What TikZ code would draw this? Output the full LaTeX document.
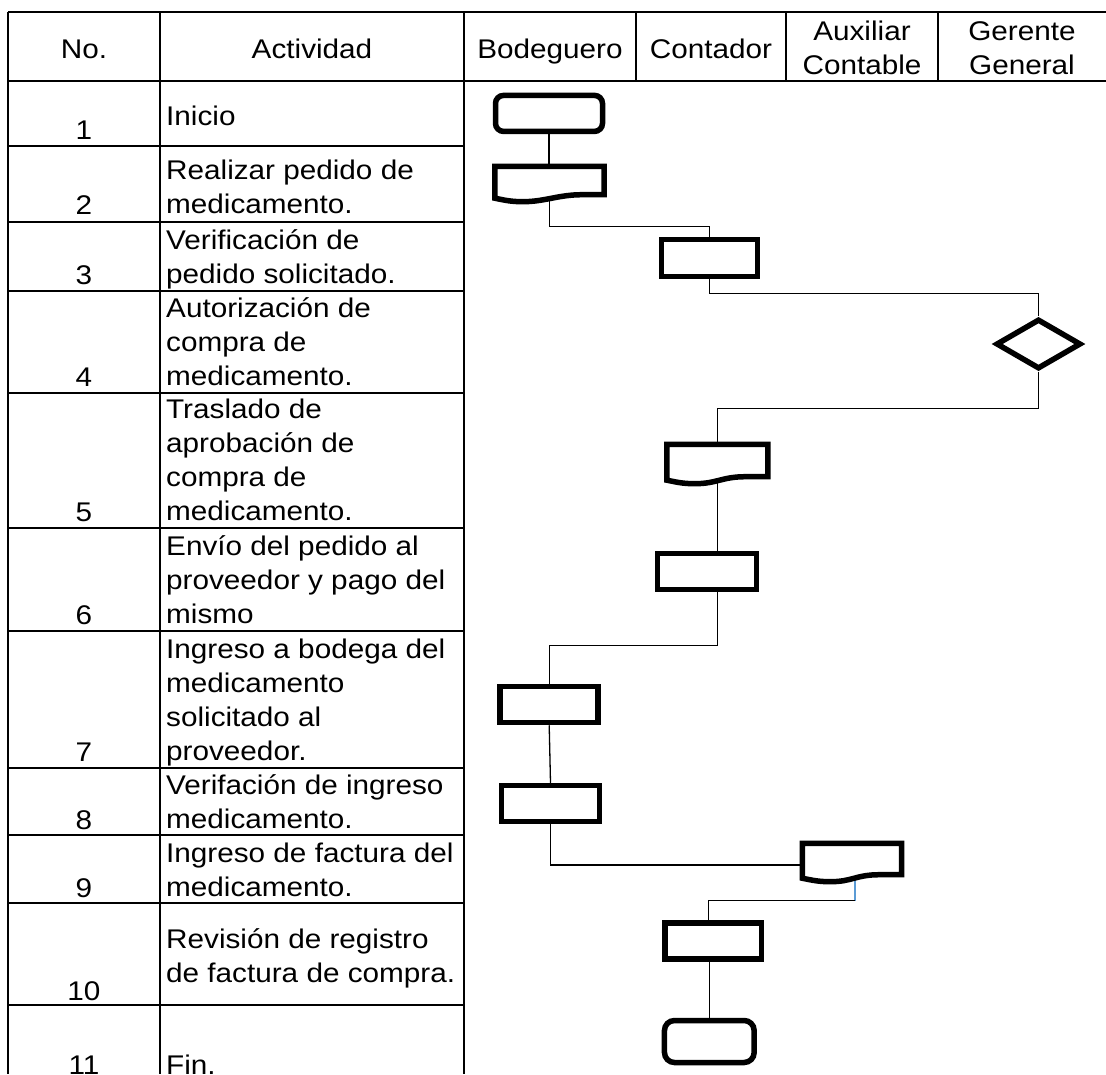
\documentclass[tikz,border=0pt]{standalone}
\usepackage{fontspec}
\usepackage{tikz}
\usetikzlibrary{shapes.geometric,calc}

\newfontfamily\tablefont{Liberation Sans}[FakeStretch=1.1]
\definecolor{linkblue}{RGB}{91,155,213}

% outline of a document symbol drawn over a plain node
\newcommand{\docoutline}[1]{%
  \draw[docline] ([yshift=-3.5pt]#1.south west) -- (#1.north west) -- (#1.north east)
    -- (#1.south east) -- ++(-22,0)
    .. controls +(-24,0) and +(22,0) .. ([xshift=28pt,yshift=-7pt]#1.south west)
    .. controls +(-12,0) and +(10,2) .. ([yshift=-3.5pt]#1.south west) -- cycle;}

\begin{document}
\begin{tikzpicture}[
  x=1pt, y=-1pt,
  grid/.style={line width=2pt},
  head/.style={font=\tablefont\fontsize{27}{34}\selectfont, align=center,
               anchor=base, inner sep=0},
  num/.style={font=\tablefont\fontsize{27}{34}\selectfont, anchor=base, inner sep=0},
  act/.style={font=\tablefont\fontsize{27}{34}\selectfont, align=left,
              anchor=base west, inner sep=0},
  terminal/.style={rectangle, draw, line width=5.5pt, rounded corners=8pt,
                   inner sep=0, fill=white},
  process/.style={rectangle, draw, line width=5.5pt, inner sep=0, fill=white},
  decision/.style={diamond, draw, line width=5.5pt, inner sep=0, fill=white},
  docnode/.style={rectangle, inner sep=0},
  docline/.style={draw, line width=5.5pt, fill=white},
  link/.style={line width=1.3pt},
]
\path[use as bounding box, fill=white] (0,0) rectangle (1106,1074);

% Table frame
\draw[grid] (8,12) -- (1106,12);
\draw[grid] (8,81) -- (1106,81);
\draw[grid] (8,12) -- (8,1074);
\draw[grid] (160,12) -- (160,1074);
\draw[grid] (464,12) -- (464,1074);
\foreach \x in {636,786,938}
  \draw[grid] (\x,12) -- (\x,81);
\foreach \y in {146,222,291,393,528,631,768,835,903,1005}
  \draw[grid] (8,\y) -- (464,\y);

% Header (base = last line)
\node[head] (hno) at (84,58) {No.};
\node[head] (hact) at (312,58) {Actividad};
\node[head] (hbod) at (550,58) {Bodeguero};
\node[head] (hcon) at (711,58) {Contador};
\node[head] (haux) at (862,74) {Auxiliar\\Contable};
\node[head] (hger) at (1022,74) {Gerente\\General};

% Step numbers
\foreach \n/\y in {1/139,2/214,3/284,4/386,5/521,6/624,7/761,8/829,9/897,10/1000,11/1074}
  \node[num] (n\n) at (84,\y) {\n};

% Activities (base = last line)
\node[act] (a1) at (166,125) {Inicio};
\node[act] (a2) at (166,213) {Realizar pedido de\\medicamento.};
\node[act] (a3) at (166,283) {Verificación de\\pedido solicitado.};
\node[act] (a4) at (166,385) {Autorización de\\compra de\\medicamento.};
\node[act] (a5) at (166,520) {Traslado de\\aprobación de\\compra de\\medicamento.};
\node[act] (a6) at (166,623) {Envío del pedido al\\proveedor y pago del\\mismo};
\node[act] (a7) at (166,760) {Ingreso a bodega del\\medicamento\\solicitado al\\proveedor.};
\node[act] (a8) at (166,828) {Verifación de ingreso\\medicamento.};
\node[act] (a9) at (166,896) {Ingreso de factura del\\medicamento.};
\node[act] (a10) at (166,982) {Revisión de registro\\de factura de compra.};
\node[act] (a11) at (166,1074) {Fin.};

% Flow symbols
\node[terminal, minimum width=107, minimum height=36] (t1) at (549,113.4) {};
\node[docnode, minimum width=109, minimum height=28] (d2) at (549.5,180.5) {};
\node[process, minimum width=96, minimum height=37] (p3) at (709.5,258) {};
\node[decision, minimum width=85, minimum height=50] (q4) at (1038.5,344) {};
\node[docnode, minimum width=100.5, minimum height=32] (d5) at (717.3,460.5) {};
\node[process, minimum width=99, minimum height=36] (p6) at (707,571.5) {};
\node[process, minimum width=98, minimum height=36] (p7) at (549.2,704.5) {};
\node[process, minimum width=98, minimum height=36] (p8) at (550.5,803.5) {};
\node[docnode, minimum width=99, minimum height=31] (d9) at (852,859) {};
\node[process, minimum width=96.3, minimum height=36] (p10) at (713.3,941.2) {};
\node[terminal, minimum width=89.7, minimum height=42, rounded corners=10pt] (t11) at (709.3,1041.5) {};

% Connectors
\draw[link] (t1.south) -- (t1.south |- d2.north);
\draw[link] (d2.south) -- ++(0,32) -| (p3.north);
\draw[link] (p3.south) -- ++(0,14) -| (q4.north);
\draw[link] (q4.south) -- ++(0,37) -| (d5.north);
\draw[link] (d5.south) -- (d5.south |- p6.north);
\draw[link] (d5.south |- p6.south) -- ++(0,53.5) -| (p7.north);
\draw[link] (p7.south) -- (p8.north);
\draw[link] (p8.south) |- ([yshift=-6pt]d9.west);
\draw[link, draw=linkblue] ([xshift=3pt]d9.south) -- ++(0,26) coordinate (b9);
\draw[link] (b9) -| ([xshift=-5pt]p10.north);
\draw[link] (t11.north |- p10.south) -- (t11.north);

% Document outlines on top
\docoutline{d2}
\docoutline{d5}
\docoutline{d9}
\end{tikzpicture}
\end{document}
